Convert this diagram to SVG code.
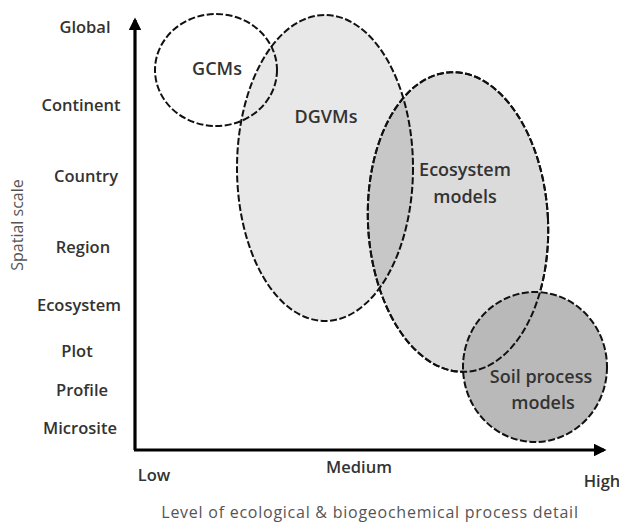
<svg xmlns="http://www.w3.org/2000/svg" width="619" height="522" viewBox="0 0 619 522">
<style>
.ring{stroke:#111;stroke-width:2;stroke-dasharray:7 2.5}
.lbl{font-family:"Open Sans","Liberation Sans",sans-serif;font-weight:600;font-size:16.5px;fill:#333;text-anchor:middle}
.in{font-size:18px}
.ax{stroke:#000;stroke-width:3.2;fill:none}
.cap{font-family:"Open Sans","Liberation Sans",sans-serif;font-size:16px;fill:#555}
</style>
<defs>
<marker id="ah" viewBox="0 0 10 10" refX="8" refY="5" markerWidth="4" markerHeight="4" orient="auto" markerUnits="strokeWidth">
<path d="M0,0 L10,5 L0,10 z" fill="#000"/>
</marker>
<ellipse id="ecoShape" cx="458" cy="222" rx="90" ry="150" transform="rotate(-3 458 222)"/>
</defs>
<rect width="619" height="522" fill="#fff"/>
<g id="dgvms"><ellipse class="ring" cx="325" cy="168" rx="88" ry="153" fill="#000" fill-opacity="0.09"/></g>
<g id="ecosystem"><use href="#ecoShape" class="ring" fill="#000" fill-opacity="0.14"/></g>
<g id="soil"><ellipse cx="535" cy="367" rx="72" ry="75" fill="#b9b9b9"/><use href="#ecoShape" class="ring" fill="none"/><ellipse class="ring" cx="535" cy="367" rx="72" ry="75" fill="none"/></g>
<g id="gcms"><ellipse class="ring" cx="216" cy="70" rx="61" ry="56" fill="none"/></g>
<g id="connectors">
<line class="ax" x1="135" y1="450" x2="135" y2="20" marker-end="url(#ah)"/>
<line class="ax" x1="134" y1="450" x2="604" y2="450" marker-end="url(#ah)"/>
</g>
<g id="labels">
<text class="lbl in" x="217" y="75">GCMs</text>
<text class="lbl in" x="326" y="123">DGVMs</text>
<text class="lbl in" x="465" y="176">Ecosystem</text>
<text class="lbl in" x="465" y="203">models</text>
<text class="lbl in" x="541" y="383">Soil process</text>
<text class="lbl in" x="543" y="409">models</text>
<text class="lbl" x="85" y="33">Global</text>
<text class="lbl" x="81" y="111">Continent</text>
<text class="lbl" x="86" y="182">Country</text>
<text class="lbl" x="83" y="253">Region</text>
<text class="lbl" x="79" y="311">Ecosystem</text>
<text class="lbl" x="77" y="357">Plot</text>
<text class="lbl" x="82" y="396">Profile</text>
<text class="lbl" x="80" y="434">Microsite</text>
<text class="lbl" x="154" y="481">Low</text>
<text class="lbl" x="359" y="473">Medium</text>
<text class="lbl" x="602" y="487">High</text>
<text class="cap" x="370" y="518" text-anchor="middle" letter-spacing="0.75">Level of ecological &amp; biogeochemical process detail</text>
<text class="cap" x="0" y="0" text-anchor="middle" font-size="13" transform="translate(23 225) rotate(-90)">Spatial scale</text>
</g>
</svg>
